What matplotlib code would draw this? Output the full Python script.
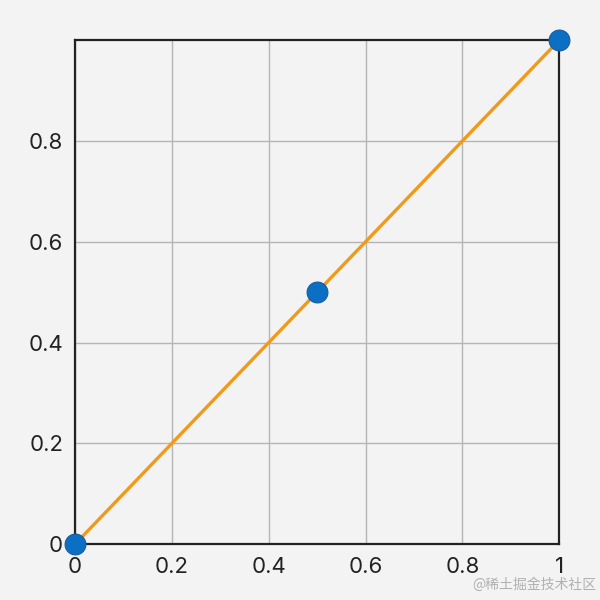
import matplotlib
matplotlib.use("Agg")
import matplotlib.pyplot as plt

# data points and the line through them
x_pts = [0, 0.5, 1]
y_pts = [0, 0.5, 1]
line_x = [0, 1]
line_y = [0, 1]

x_ticks = [0, 0.2, 0.4, 0.6, 0.8, 1]
x_labels = ["0", "0.2", "0.4", "0.6", "0.8", "1"]
y_ticks = [0, 0.2, 0.4, 0.6, 0.8]
y_labels = ["0", "0.2", "0.4", "0.6", "0.8"]

BG = "#f3f3f3"

plt.rcParams["font.family"] = ["Inter", "DejaVu Sans"]

fig = plt.figure(figsize=(6, 6), dpi=100, facecolor=BG)
ax = fig.add_axes([0.125, 0.093, 0.807, 0.84])
ax.set_facecolor(BG)

ax.plot(line_x, line_y, color="#f09a1a", lw=2.4, zorder=3, clip_on=False)
ax.plot(x_pts, y_pts, "o", ms=15, color="#0b6fc4", mec="#1d5a99", mew=0.8,
        zorder=4, clip_on=False)

ax.set_xlim(0, 1)
ax.set_ylim(0, 1)
ax.set_xticks(x_ticks)
ax.set_xticklabels(x_labels)
ax.set_yticks(y_ticks)
ax.set_yticklabels(y_labels)
ax.tick_params(length=0, labelsize=16, colors="#222222")
ax.tick_params(axis="x", pad=9)
ax.tick_params(axis="y", pad=8.5)
ax.grid(True, color="#b5b5b5", lw=1)
ax.set_axisbelow(True)
for s in ax.spines.values():
    s.set_color("#222222")
    s.set_linewidth(1.6)

# watermark, bottom right
fig.text(0.787, 0.018, "@稀土掘金技术社区", fontsize=10, color="#b0b0b0",
         family=["Noto Sans CJK SC", "DejaVu Sans"])

fig.savefig("out.png", dpi=100, facecolor=BG)
